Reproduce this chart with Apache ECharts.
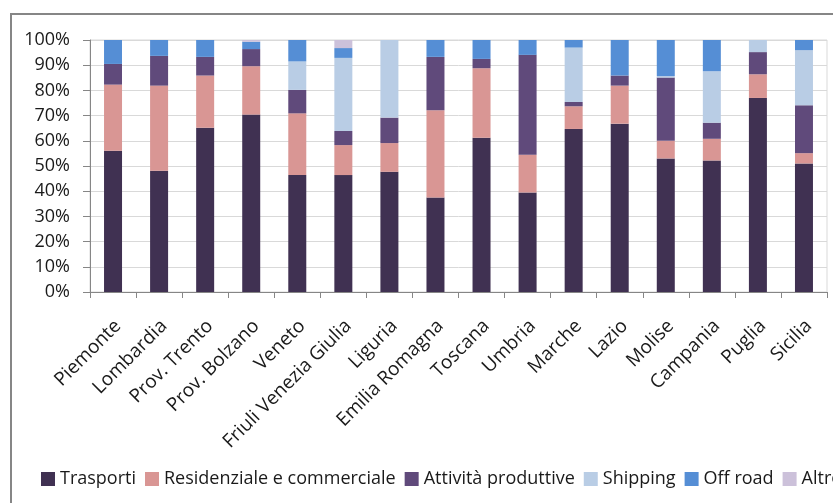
<!DOCTYPE html>
<html>
<head>
<meta charset="utf-8">
<script src="https://cdn.jsdelivr.net/npm/echarts@6/dist/echarts.min.js"></script>
<style>
  html, body { margin: 0; padding: 0; background: #ffffff; }
  #chart { width: 833px; height: 503px; }
</style>
</head>
<body>
<div id="chart"></div>
<script>
// Regions / provinces on the category axis
const categories = ['Piemonte', 'Lombardia', 'Prov. Trento', 'Prov. Bolzano', 'Veneto',
  'Friuli Venezia Giulia', 'Liguria', 'Emilia Romagna', 'Toscana', 'Umbria', 'Marche',
  'Lazio', 'Molise', 'Campania', 'Puglia', 'Sicilia'];

// Share of each source, in percent
const trasporti    = [56.1, 48.1, 65.2, 70.4, 46.4, 46.4, 47.7, 37.5, 61.2, 39.5, 64.7, 66.8, 53.0, 52.2, 77.0, 51.0];
const residenziale = [26.2, 33.8, 20.7, 19.2, 24.5, 11.9, 11.4, 34.6, 27.6, 15.0, 9.0, 15.1, 7.0, 8.6, 9.4, 4.1];
const attivita     = [8.2, 11.8, 7.4, 6.8, 9.3, 5.6, 10.1, 21.2, 3.7, 39.6, 1.7, 4.0, 25.1, 6.4, 8.8, 19.0];
const shipping     = [0, 0, 0, 0, 11.3, 29.0, 30.8, 0, 0, 0, 21.6, 0, 0.6, 20.4, 4.8, 21.9];
const offroad      = [9.5, 6.3, 6.7, 2.9, 8.5, 3.9, 0, 6.7, 7.5, 5.9, 3.0, 14.1, 14.3, 12.4, 0, 4.0];
const altro        = [0, 0, 0, 0.7, 0, 3.2, 0, 0, 0, 0, 0, 0, 0, 0, 0, 0];

// Y axis tick values
const yTicks = [0, 10, 20, 30, 40, 50, 60, 70, 80, 90, 100];

const FONT = "'Open Sans', 'Noto Sans', sans-serif";
const TEXT_COLOR = '#1a1a1a';

const seriesDefs = [
  { name: 'Trasporti', data: trasporti, color: '#403152' },
  { name: 'Residenziale e commerciale', data: residenziale, color: '#D99694' },
  { name: 'Attività produttive', data: attivita, color: '#604A7B' },
  { name: 'Shipping', data: shipping, color: '#B9CDE5' },
  { name: 'Off road', data: offroad, color: '#558ED5' },
  { name: 'Altro', data: altro, color: '#CCC1DA' }
];

const chart = echarts.init(document.getElementById('chart'), null, { renderer: 'canvas' });

chart.setOption({
  animation: false,
  backgroundColor: '#ffffff',
  textStyle: { fontFamily: FONT },
  graphic: [{
    type: 'rect',
    shape: { x: 11, y: 14, width: 900, height: 600 },
    style: { fill: 'none', stroke: '#868686', lineWidth: 2 },
    silent: true
  }],
  grid: {
    left: 90, right: 6, top: 40, bottom: 211,
    show: true, borderColor: '#d9d9d9', borderWidth: 1
  },
  legend: {
    left: 36, top: 465, width: 1500,
    itemWidth: 14, itemHeight: 14, itemGap: 9,
    icon: 'rect',
    textStyle: { fontFamily: FONT, fontSize: 18, color: TEXT_COLOR },
    data: seriesDefs.map(s => s.name)
  },
  xAxis: {
    type: 'category',
    data: categories,
    boundaryGap: true,
    axisLine: { lineStyle: { color: '#868686', width: 1 } },
    axisTick: { show: true, length: 6, lineStyle: { color: '#868686' } },
    axisLabel: {
      rotate: 45, interval: 0, margin: 36,
      padding: [0, -7, 0, 0],
      fontFamily: FONT, fontSize: 19, color: TEXT_COLOR
    }
  },
  yAxis: {
    type: 'value',
    min: yTicks[0], max: yTicks[yTicks.length - 1], interval: 10,
    axisLine: { show: true, lineStyle: { color: '#868686' } },
    axisTick: { show: true, length: 7, inside: false, lineStyle: { color: '#868686' } },
    splitLine: { lineStyle: { color: '#d9d9d9' } },
    axisLabel: {
      formatter: '{value}%', margin: 20,
      fontFamily: FONT, fontSize: 18, color: TEXT_COLOR
    }
  },
  series: seriesDefs.map(s => ({
    name: s.name,
    type: 'bar',
    stack: 'total',
    barWidth: 18,
    data: s.data,
    itemStyle: { color: s.color }
  }))
});
</script>
</body>
</html>
